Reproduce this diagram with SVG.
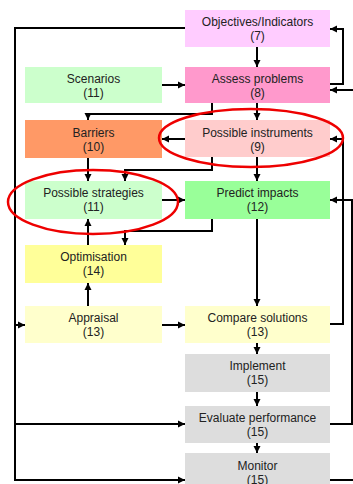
<svg xmlns="http://www.w3.org/2000/svg" width="353" height="484" viewBox="0 0 353 484">
<defs>
<marker id="arr" markerUnits="userSpaceOnUse" markerWidth="8" markerHeight="8" refX="7" refY="4" orient="auto">
<path d="M0,0.5 L7,4 L0,7.5 z" fill="#000"/>
</marker>
<style>
.n text{font-family:"Liberation Sans",Arial,sans-serif;font-size:12px;fill:#222;text-anchor:middle}
.c path{fill:none;stroke:#000;stroke-width:2}
.c .a{marker-end:url(#arr)}
.hl{fill:none;stroke:#e00;stroke-width:2.5}
</style>
</defs>
<rect width="353" height="484" fill="#fff"/>
<g id="n7" class="n"><rect x="185" y="10" width="145" height="37" fill="#ffccff"/><text x="257.5" y="26">Objectives/Indicators</text><text x="257.5" y="40">(7)</text></g>
<g id="n8" class="n"><rect x="185" y="67" width="145" height="36" fill="#ff99cc"/><text x="257.5" y="83">Assess problems</text><text x="257.5" y="97">(8)</text></g>
<g id="n9" class="n"><rect x="185" y="120" width="145" height="37" fill="#ffcccc"/><text x="257.5" y="137">Possible instruments</text><text x="257.5" y="151">(9)</text></g>
<g id="n12" class="n"><rect x="185" y="181" width="145" height="38" fill="#99ff99"/><text x="257.5" y="197">Predict impacts</text><text x="257.5" y="211">(12)</text></g>
<g id="n13b" class="n"><rect x="185" y="306" width="145" height="37" fill="#ffffcc"/><text x="257.5" y="322">Compare solutions</text><text x="257.5" y="336">(13)</text></g>
<g id="n15a" class="n"><rect x="185" y="354" width="145" height="38" fill="#dddddd"/><text x="257.5" y="370">Implement</text><text x="257.5" y="384">(15)</text></g>
<g id="n15b" class="n"><rect x="185" y="406" width="145" height="37" fill="#dddddd"/><text x="257.5" y="422">Evaluate performance</text><text x="257.5" y="436">(15)</text></g>
<g id="n15c" class="n"><rect x="185" y="453" width="145" height="40" fill="#dddddd"/><text x="257.5" y="470">Monitor</text><text x="257.5" y="484">(15)</text></g>
<g id="n11a" class="n"><rect x="25" y="67" width="137" height="36" fill="#ccffcc"/><text x="93.5" y="83">Scenarios</text><text x="93.5" y="97">(11)</text></g>
<g id="n10" class="n"><rect x="25" y="120" width="137" height="38" fill="#ff9966"/><text x="93.5" y="137">Barriers</text><text x="93.5" y="151">(10)</text></g>
<g id="n11b" class="n"><rect x="25" y="181" width="137" height="38" fill="#ccffcc"/><text x="93.5" y="197">Possible strategies</text><text x="93.5" y="211">(11)</text></g>
<g id="n14" class="n"><rect x="25" y="245" width="137" height="38" fill="#ffff99"/><text x="93.5" y="261">Optimisation</text><text x="93.5" y="275">(14)</text></g>
<g id="n13a" class="n"><rect x="25" y="306" width="137" height="37" fill="#ffffcc"/><text x="93.5" y="322">Appraisal</text><text x="93.5" y="336">(13)</text></g>
<g id="connectors" class="c">
<path class="a" d="M185,28 H15 V480 H185"/>
<path class="a" d="M15,325 H25"/>
<path class="a" d="M15,424 H185"/>
<path class="a" d="M257,47 V67"/>
<path class="a" d="M162,85 H185"/>
<path class="a" d="M330,84 H343 V29 H330"/>
<path class="a" d="M353,90 H330"/>
<path class="a" d="M257,103 V120"/>
<path class="a" d="M212,103 V114 H88 V120"/>
<path class="a" d="M185,139 H162"/>
<path class="a" d="M257,157 V181"/>
<path class="a" d="M88,158 V181"/>
<path class="a" d="M212,157 V170 H125 V181"/>
<path class="a" d="M162,200 H185"/>
<path class="a" d="M212,219 V231 H125 V245"/>
<path class="a" d="M88,245 V219"/>
<path class="a" d="M88,306 V283"/>
<path class="a" d="M257,219 V306"/>
<path class="a" d="M162,325 H185"/>
<path class="a" d="M330,324 H343 V139 H330"/>
<path class="a" d="M330,424 H352 V200 H330"/>
<path class="a" d="M257,343 V354"/>
<path class="a" d="M257,392 V406"/>
<path class="a" d="M257,443 V453"/>
<path d="M330,480 H353"/>
</g>
<ellipse class="hl" cx="251" cy="138" rx="92" ry="29"/>
<ellipse class="hl" cx="93" cy="202" rx="85" ry="32"/>
</svg>
